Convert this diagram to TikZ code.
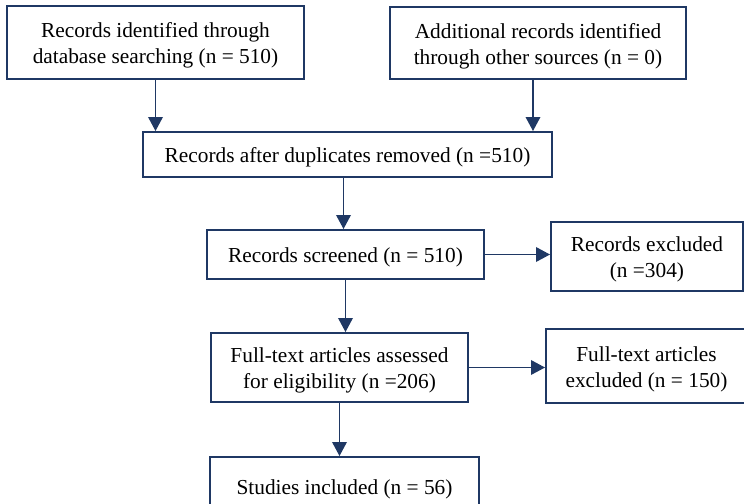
\documentclass[tikz,border=0pt]{standalone}
\usepackage{fontspec}
\setmainfont{Liberation Serif}
\usepackage{tikz}
\usetikzlibrary{arrows.meta}
\usepackage{color}
\newcommand{\topstrut}{\rule{0pt}{1em}}

\begin{document}
\begin{tikzpicture}[x=0.75pt,y=0.75pt,yscale=-1.0,xscale=1.0,
  box/.style={draw={rgb, 255:red, 31; green, 56; blue, 100}, line width=1.5pt, inner sep=0pt, align=center, font=\fontsize{16}{19.5}\selectfont},
  flow/.style={draw={rgb, 255:red, 31; green, 56; blue, 100}, line width=1pt, -{Triangle[length=10.5pt,width=11pt]}}]
\useasboundingbox (0,0) rectangle (744,504);
\draw (155.5,42.5) node (ident) [box] [minimum width=222.75pt,minimum height=54.75pt]  {\topstrut Records identified through\\database searching (n = 510)};
\draw (538,43) node (other) [box] [minimum width=222pt,minimum height=54pt]  {\topstrut Additional records identified\\through other sources (n = 0)};
\draw (347.5,154.5) node (dup) [box] [minimum width=306.75pt,minimum height=33.75pt]  {\topstrut Records after duplicates removed (n =510)};
\draw (345.5,254.5) node (screen) [box] [minimum width=207.75pt,minimum height=36.75pt]  {\topstrut Records screened (n = 510)};
\draw (647,256.5) node (recex) [box] [minimum width=144pt,minimum height=51.75pt]  {\topstrut Records excluded\\(n =304)};
\draw (339.5,367.5) node (full) [box] [minimum width=192.75pt,minimum height=51.75pt]  {\topstrut Full-text articles assessed\\for eligibility (n =206)};
\draw (646.5,366) node (fullex) [box] [minimum width=150.75pt,minimum height=55.5pt]  {\topstrut Full-text articles\\excluded (n = 150)};
\draw (344.5,486) node (incl) [box] [minimum width=201.75pt,minimum height=43.5pt]  {\topstrut Studies included (n = 56)};
\draw [flow] (ident.south) -- (ident.south |- dup.north) ;
\draw [flow] ([xshift=-3.75pt]other.south) -- ([xshift=-3.75pt]other.south |- dup.north) ;
\draw [flow] ([xshift=-3pt]dup.south) -- ([xshift=-3pt]dup.south |- screen.north) ;
\draw [flow] (screen.south) -- (screen.south |- full.north) ;
\draw [flow] (full.south) -- (full.south |- incl.north) ;
\draw [flow] (screen.east) -- (screen.east -| recex.west) ;
\draw [flow] (full.east) -- (full.east -| fullex.west) ;
\end{tikzpicture}
\end{document}
